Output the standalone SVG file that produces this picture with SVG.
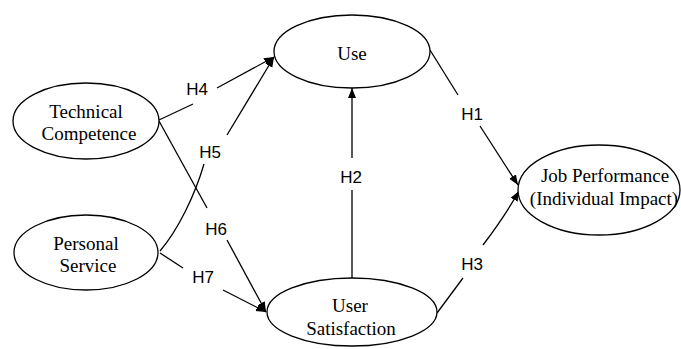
<svg xmlns="http://www.w3.org/2000/svg" width="681" height="349" viewBox="0 0 681 349">
<defs>
<style>
.node ellipse{fill:#fff;stroke:#000;stroke-width:1.3}
.node text{font-family:"Liberation Serif","Times New Roman",serif;font-size:19px;fill:#000;text-anchor:middle}
.edges path{fill:none;stroke:#000;stroke-width:1.3}
.lbl{font-family:"Liberation Sans",Arial,sans-serif;font-size:17px;fill:#000;text-anchor:middle}
</style>
<marker id="arr" markerUnits="userSpaceOnUse" markerWidth="12" markerHeight="10" refX="10" refY="5" orient="auto">
<path d="M0,1 L10,5 L0,9 Z" fill="#000"/>
</marker>
</defs>
<rect width="681" height="349" fill="#fff"/>
<g class="edges">
<path d="M159,120 L193,104"/>
<path d="M217,88 L274,57" marker-end="url(#arr)"/>
<path d="M160,251 C178,230 195,195 204,164"/>
<path d="M227,135 L274,57" marker-end="url(#arr)"/>
<path d="M159,121 L207,208"/>
<path d="M227,240 L266,312" marker-end="url(#arr)"/>
<path d="M160,253 L183,268"/>
<path d="M223,290 L266,312" marker-end="url(#arr)"/>
<path d="M352,278 L352,190"/>
<path d="M352,158 L352,88" marker-end="url(#arr)"/>
<path d="M430,50 L458,95"/>
<path d="M480,126 L518,185" marker-end="url(#arr)"/>
<path d="M437,313 L463,278"/>
<path d="M483,245 Q505,216 519,191" marker-end="url(#arr)"/>
<text class="lbl" x="197" y="95">H4</text>
<text class="lbl" x="210" y="158">H5</text>
<text class="lbl" x="216" y="235">H6</text>
<text class="lbl" x="203" y="283">H7</text>
<text class="lbl" x="472" y="120">H1</text>
<text class="lbl" x="351" y="183">H2</text>
<text class="lbl" x="472" y="270">H3</text>
</g>
<g id="technical" class="node">
<ellipse cx="86" cy="121" rx="73" ry="38"/>
<text x="86" y="118">Technical</text>
<text x="89" y="140">Competence</text>
</g>
<g id="personal" class="node">
<ellipse cx="86" cy="252.5" rx="72" ry="37.5"/>
<text x="86" y="250">Personal</text>
<text x="88" y="272">Service</text>
</g>
<g id="use" class="node">
<ellipse cx="352" cy="51.5" rx="78" ry="36.5"/>
<text x="352" y="60">Use</text>
</g>
<g id="usersat" class="node">
<ellipse cx="352" cy="312" rx="85" ry="34"/>
<text x="350" y="312">User</text>
<text x="351" y="335">Satisfaction</text>
</g>
<g id="jobperf" class="node">
<ellipse cx="599" cy="190" rx="81" ry="45"/>
<text x="605" y="182">Job Performance</text>
<text x="604" y="205">(Individual Impact)</text>
</g>
</svg>
